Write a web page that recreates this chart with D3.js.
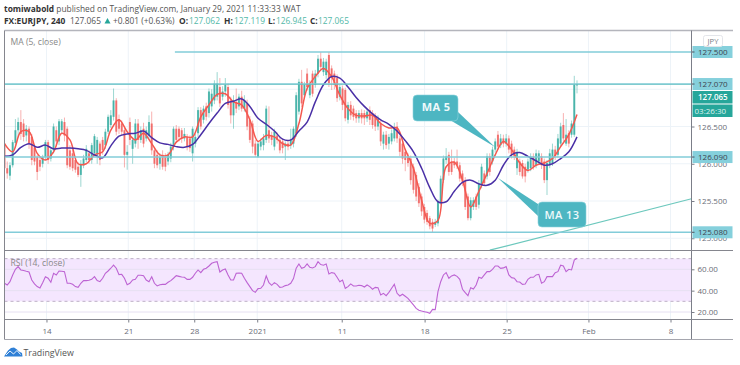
<!DOCTYPE html>
<html>
<head>
<meta charset="utf-8">
<script src="https://cdn.jsdelivr.net/npm/d3@7"></script>
<style>
  body { margin: 0; background: white; }
  text { font-family: "Open Sans", sans-serif; }
</style>
</head>
<body>
<section></section>
<script>
//candles, 4h bars
var opens = [
126.27,125.94,125.84,125.98,126.28,126.45,126.56,126.54,126.38,126.47,
126.36,126.22,126.09,126.05,126.00,126.09,126.29,126.07,126.18,126.45,
126.30,126.45,126.56,126.47,126.18,126.14,126.05,125.96,125.85,125.98,
126.05,126.14,126.05,126.14,126.12,126.27,126.32,126.25,126.43,126.52,
126.63,126.85,126.60,126.54,126.45,126.12,126.56,126.20,126.27,126.54,
126.32,126.47,126.34,126.38,126.54,126.18,126.12,126.00,126.12,126.09,
126.03,126.07,126.23,126.47,126.47,126.45,126.34,126.36,126.34,126.14,
126.27,126.41,126.72,126.59,126.77,126.68,126.77,126.85,126.90,127.03,
126.90,126.97,127.03,126.85,126.65,126.83,126.77,126.90,126.74,126.81,
126.59,126.54,126.27,126.09,126.23,126.25,126.32,126.45,126.38,126.23,
126.38,126.32,126.30,126.23,126.27,126.25,126.27,126.41,126.70,127.10,
126.92,127.21,126.92,127.21,127.06,127.21,127.41,127.23,127.19,127.46,
127.28,127.21,127.15,126.90,127.01,126.99,126.59,126.79,126.74,126.68,
126.61,126.68,126.68,126.61,126.72,126.68,126.63,126.50,126.54,126.27,
126.39,126.27,126.30,126.34,126.50,126.34,126.27,126.16,126.10,126.07,
125.96,125.85,125.69,125.56,125.42,125.34,125.27,125.22,125.18,125.20,
125.49,125.78,126.05,126.12,126.03,126.03,126.03,125.98,125.87,125.78,
125.56,125.27,125.42,125.56,125.45,125.71,125.87,125.83,126.10,126.03,
126.19,126.39,126.25,126.34,126.27,126.34,126.27,126.19,125.94,126.03,
126.01,125.96,125.92,125.94,126.10,125.98,126.03,126.10,126.03,125.78,
125.98,126.01,126.19,126.12,126.27,126.52,126.27,126.41,126.39,126.39,
127.062];
var highs = [
126.30,126.03,126.02,126.32,126.60,126.62,126.72,126.60,126.52,126.50,
126.40,126.26,126.12,126.10,126.12,126.32,126.32,126.22,126.54,126.50,
126.60,126.60,126.62,126.50,126.25,126.20,126.10,126.02,126.05,126.12,
126.25,126.18,126.28,126.40,126.36,126.30,126.36,126.47,126.66,126.72,
127.01,126.88,126.66,126.58,126.48,126.25,126.62,126.36,126.60,126.60,
126.50,126.55,126.50,126.65,126.70,126.22,126.18,126.14,126.18,126.14,
126.16,126.28,126.50,126.52,126.50,126.48,126.48,126.40,126.38,126.50,
126.40,126.76,126.76,126.78,126.82,127.01,127.00,127.12,127.23,127.15,
127.04,127.15,127.08,126.90,126.92,127.01,126.94,126.98,126.92,126.86,
126.64,126.58,126.32,126.30,126.34,126.40,126.78,126.77,126.43,126.47,
126.42,126.36,126.34,126.30,126.32,126.47,126.50,126.96,127.14,127.26,
127.10,127.28,127.12,127.25,127.26,127.46,127.50,127.42,127.41,127.50,
127.32,127.25,127.20,127.06,127.05,127.02,126.83,126.84,126.78,126.72,
126.72,126.73,126.72,126.74,126.77,126.72,126.68,126.65,126.58,126.43,
126.44,126.40,126.46,126.55,126.56,126.38,126.31,126.20,126.14,126.11,
126.00,125.89,125.74,125.60,125.46,125.38,125.30,125.26,125.26,125.52,
125.84,126.11,126.21,126.16,126.19,126.08,126.19,126.02,125.91,125.82,
125.60,125.55,125.55,125.60,125.78,126.00,125.91,126.14,126.14,126.23,
126.34,126.44,126.40,126.39,126.40,126.38,126.31,126.23,126.20,126.07,
126.05,126.00,126.07,126.14,126.14,126.19,126.18,126.14,126.07,126.05,
126.20,126.27,126.24,126.40,126.55,126.68,126.60,126.45,126.58,127.18,
127.119];
var lows = [
125.82,125.80,125.78,125.95,126.22,126.35,126.32,126.30,126.30,126.20,
125.98,125.98,125.78,125.90,125.95,126.05,126.00,126.03,126.14,126.25,
126.25,126.40,126.30,125.94,125.92,125.90,125.88,125.82,125.69,125.94,
126.02,126.00,126.00,126.10,126.00,125.98,126.12,126.20,126.40,126.48,
126.58,126.38,126.40,126.38,125.95,125.92,126.25,126.00,126.22,126.20,
126.28,126.22,126.30,126.34,126.12,125.94,125.94,125.92,125.92,125.90,
125.98,126.02,126.18,126.28,126.30,126.28,126.30,126.18,126.16,126.03,
126.22,126.36,126.46,126.54,126.58,126.62,126.70,126.80,126.85,126.76,
126.85,126.90,126.74,126.54,126.47,126.68,126.72,126.70,126.70,126.45,
126.28,126.14,126.09,126.08,126.18,126.18,126.28,126.28,126.25,126.18,
126.27,126.14,126.14,126.05,126.18,126.20,126.22,126.36,126.66,126.76,
126.88,126.98,126.88,126.90,127.02,127.16,127.26,127.18,127.14,127.03,
126.99,127.00,126.83,126.85,126.72,126.57,126.54,126.59,126.58,126.55,
126.55,126.54,126.52,126.56,126.52,126.47,126.44,126.45,126.24,126.19,
126.20,126.19,126.26,126.30,126.28,126.10,126.00,125.90,125.96,125.72,
125.60,125.50,125.42,125.30,125.20,125.18,125.12,125.08,125.15,125.16,
125.45,125.74,126.00,125.84,125.85,125.94,125.93,125.76,125.70,125.38,
125.24,125.24,125.38,125.38,125.40,125.67,125.70,125.79,125.84,125.99,
126.15,126.19,126.21,126.22,126.23,126.14,126.07,126.05,125.85,125.84,
125.80,125.75,125.88,125.90,125.92,125.94,125.99,125.93,125.74,125.58,
125.94,125.97,126.05,126.08,126.23,126.30,126.24,126.22,126.35,126.36,
126.945];
var closes = [
125.94,125.87,125.98,126.29,126.45,126.56,126.40,126.36,126.47,126.27,
126.05,126.03,125.89,125.96,126.09,126.29,126.05,126.18,126.50,126.30,
126.57,126.57,126.38,125.98,125.96,125.94,125.92,125.85,126.00,126.07,
126.20,126.05,126.25,126.37,126.32,126.05,126.18,126.43,126.63,126.65,
126.85,126.43,126.47,126.43,126.12,126.16,126.32,126.32,126.54,126.32,
126.45,126.27,126.45,126.56,126.18,126.00,125.98,126.09,125.96,125.96,
126.12,126.23,126.47,126.32,126.36,126.34,126.40,126.23,126.21,126.47,
126.36,126.72,126.50,126.74,126.63,126.97,126.94,127.08,127.08,126.81,
126.97,127.06,126.79,126.65,126.85,126.74,126.90,126.74,126.85,126.50,
126.32,126.23,126.12,126.27,126.30,126.34,126.74,126.34,126.32,126.43,
126.32,126.18,126.21,126.27,126.23,126.32,126.47,126.92,127.10,126.81,
127.06,127.03,127.08,126.94,127.21,127.41,127.30,127.37,127.37,127.08,
127.15,127.06,126.88,127.03,126.79,126.61,126.79,126.65,126.63,126.61,
126.68,126.61,126.61,126.70,126.59,126.52,126.50,126.60,126.30,126.39,
126.25,126.36,126.41,126.48,126.34,126.16,126.07,126.05,126.01,125.78,
125.65,125.56,125.47,125.36,125.25,125.22,125.16,125.13,125.22,125.49,
125.80,126.07,126.10,125.89,125.89,125.98,125.98,125.80,125.74,125.42,
125.27,125.51,125.51,125.42,125.74,125.96,125.74,126.10,125.89,126.19,
126.30,126.23,126.34,126.27,126.34,126.19,126.12,126.10,126.16,125.89,
125.83,125.83,126.03,126.10,125.96,126.14,126.14,125.98,125.78,126.01,
126.14,126.19,126.10,126.34,126.50,126.34,126.39,126.27,126.54,127.06,
127.065];

//moving averages, one reading every 3rd bar
var ma5 = [
126.27,126.16,126.43,126.43,126.14,126.05,126.16,126.41,126.32,126.00,126.00,126.12,
126.16,126.45,126.59,126.43,126.32,126.41,126.27,126.12,126.12,126.29,126.36,
126.36,126.63,126.79,126.93,126.94,126.83,126.79,126.59,126.30,126.38,126.36,126.27,
126.25,126.54,127.01,127.17,127.28,127.17,126.92,126.74,126.65,126.64,
126.65,126.54,126.48,126.48,126.19,125.94,125.51,125.20,125.24,125.96,126.02,125.78,125.42,
125.63,125.87,126.12,126.30,126.19,126.01,125.91,125.98,126.01,126.07,126.23,126.39,126.66];
var ma13 = [
126.10,126.12,126.22,126.27,126.22,126.25,126.20,126.21,126.21,126.20,126.18,126.12,
126.08,126.24,126.37,126.40,126.41,126.44,126.35,126.28,126.26,126.23,126.22,
126.26,126.39,126.54,126.68,126.81,126.84,126.87,126.77,126.61,126.53,126.44,126.33,
126.32,126.44,126.56,126.83,127.06,127.17,127.15,127.03,126.89,126.77,
126.67,126.59,126.53,126.44,126.31,126.16,125.94,125.68,125.49,125.49,125.63,125.75,125.78,
125.73,125.71,125.78,125.98,126.12,126.15,126.10,126.04,125.98,126.00,126.07,126.16,126.36];

var rsi = [
46.9,45.3,48.4,54.7,60,62.5,59.4,58.8,58.1,57.5,
50,46.3,43.8,42.5,47.5,53.1,51.6,47.8,56.3,54.7,
58.4,58.1,57.8,46.9,46.9,45.9,43.8,43.1,46.9,49.4,
49.4,49.7,50.6,53.1,49.4,48.4,51.6,56.3,58.4,61,
64,61,55,55.3,51.6,45.6,46.9,50,50.6,54.4,
54.4,54,50,48.4,53.1,46.9,44.4,45.6,45.9,45.9,
47.8,49.4,51.6,54,53.4,52.8,52.5,50.6,50.6,52.5,
56.3,59.4,56.9,60,61,63.1,65.6,66.6,67.2,57.5,
59.4,60.3,54.7,50,50,56.3,56.6,56.3,51.6,47.5,
43.8,40,38.4,41.9,42.2,45.3,53.8,47.5,45,47.5,
45.9,43.1,43.4,44.7,45.3,46.9,51.3,61,65,61,
61.9,65,61.9,61.3,62.5,67.2,64.4,63.8,65,55.6,
56.9,56.3,52.5,48.4,50,42.2,43.8,46.3,44.4,44.4,
45,44.7,43.4,45.3,43.8,41.3,43.1,42.8,35.9,37.5,
35.3,38.4,42.2,45.9,37.5,35,36.6,34.7,32.8,29.7,
26.6,23.4,21.6,20.9,20.3,19.7,18.8,22.5,22.2,39,
48.4,54.7,56.9,51.6,53.8,54.7,53.4,50.6,41.3,38.1,
35.3,42.8,41.6,45.3,52.5,51.6,54.7,57.8,57.8,60,
63.1,63.1,60.9,61.3,62.5,54.7,52.2,51.6,48.4,48.1,
45.9,46.3,50.6,52.5,52.5,54.7,55.3,46.9,48.4,53.1,
53.1,53.1,56.9,57.8,63.8,63.1,57.8,60,59.4,68.7,
70.3];

//axis
var dateBars = [15.4, 45.4, 69.6, 92.7, 123.7, 154.1, 184.2, 214.2, 244.3];
var dateLabels = ["14", "21", "28", "2021", "11", "18", "25", "Feb", "8"];
var priceTicks = [126.5, 126.0, 125.5, 125.0];
var priceGrid = [127.0, 126.5, 126.0, 125.5, 125.0];
var rsiTicks = [60, 40, 20];

//drawn levels, price labels on the axis
var levelPrices = [127.5, 127.07, 126.09, 125.08];
var levelStartBars = [62.5, 0, 0, 0];
var levelLabels = ["127.500", "127.070", "126.090", "125.080"];
var lastPrice = 127.065;

//trend line ends (bar, price)
var trendBars = [178, 252];
var trendPrices = [124.84, 125.53];

var w = 740;
var h = 365;
var left = 4.5;
var right = 691.5;
var top_ = 30.5;
var paneBottom = 250.5;
var rsiBottom = 319.5;
var chartBottom = 339.5;

var upColor = "#26a69a";
var downColor = "#ef5350";
var levelColor = "#82ccd9";
var calloutColor = "#4db6c2";
var textColor = "#6a6d78";
var axisFont = 8;
var headFont = 8.4;

var x = d3.scaleLinear().domain([0, 252]).range([left, right]);
var y = d3.scaleLinear().domain([127.5, 125]).range([52, 238.25]);
var yRsi = d3.scaleLinear().domain([60, 20]).range([269.3, 312]);

var svg = d3.select("section")
            .append("svg")
            .attr("width", w)
            .attr("height", h)
            .style("display", "block");

svg.append("clipPath").attr("id", "mainClip")
    .append("rect")
    .attr("x", left).attr("y", top_)
    .attr("width", right - left).attr("height", paneBottom - top_);

//header
var head1 = svg.append("text").attr("x", 4).attr("y", 11.5).attr("font-size", headFont).attr("fill", "#555");
head1.append("tspan").attr("font-weight", 700).attr("fill", "#333").text("tomiwabold");
head1.append("tspan").text(" published on TradingView.com, January 29, 2021 11:33:33 WAT");

var head2 = [
    {x: 4, t: "FX:EURJPY, 240", c: "#333", b: 700},
    {x: 70, t: "127.065", c: "#555", b: 400},
    {x: 113, t: "+0.801 (+0.63%)", c: "#555", b: 400},
    {x: 179, t: "O:", c: "#333", b: 700},
    {x: 189, t: "127.062", c: "#53b9a8", b: 400},
    {x: 224, t: "H:", c: "#333", b: 700},
    {x: 234, t: "127.119", c: "#53b9a8", b: 400},
    {x: 268, t: "L:", c: "#333", b: 700},
    {x: 276, t: "126.945", c: "#53b9a8", b: 400},
    {x: 310, t: "C:", c: "#333", b: 700},
    {x: 318, t: "127.065", c: "#53b9a8", b: 400}
];
svg.selectAll(".head2").data(head2).enter().append("text")
    .attr("x", function(d){ return d.x; })
    .attr("y", 24)
    .attr("font-size", headFont)
    .attr("font-weight", function(d){ return d.b; })
    .attr("fill", function(d){ return d.c; })
    .text(function(d){ return d.t; });
svg.append("path").attr("d", "M104.5,23.5 L107.5,18 L110.5,23.5 Z").attr("fill", upColor);

//grid
var gridColor = "#edf3f8";
svg.selectAll(".vgrid").data(dateBars).enter().append("line")
    .attr("x1", function(d){ return x(d); }).attr("x2", function(d){ return x(d); })
    .attr("y1", top_).attr("y2", rsiBottom)
    .attr("stroke", gridColor);
svg.selectAll(".hgrid").data(priceGrid).enter().append("line")
    .attr("x1", left).attr("x2", right)
    .attr("y1", function(d){ return y(d); }).attr("y2", function(d){ return y(d); })
    .attr("stroke", gridColor);

//rsi pane background
svg.append("rect")
    .attr("x", left).attr("y", yRsi(70))
    .attr("width", right - left).attr("height", yRsi(30) - yRsi(70))
    .attr("fill", "#f4e6fe");
svg.selectAll(".rgrid").data(rsiTicks).enter().append("line")
    .attr("x1", left).attr("x2", right)
    .attr("y1", function(d){ return yRsi(d); }).attr("y2", function(d){ return yRsi(d); })
    .attr("stroke", "#e6e0f2");
svg.selectAll(".rband").data([70, 30]).enter().append("line")
    .attr("x1", left).attr("x2", right)
    .attr("y1", function(d){ return yRsi(d); }).attr("y2", function(d){ return yRsi(d); })
    .attr("stroke", "#bdb0c6").attr("stroke-dasharray", "3,3");

var rsiLine = d3.line()
    .x(function(d, i){ return x(i); })
    .y(function(d){ return yRsi(d); });
svg.append("path").datum(rsi)
    .attr("d", rsiLine)
    .attr("fill", "none").attr("stroke", "#bd63d3").attr("stroke-width", 1.1);

//candles
var main = svg.append("g").attr("clip-path", "url(#mainClip)");
var bars = main.selectAll(".bar").data(closes).enter().append("g");
bars.append("line")
    .attr("x1", function(d, i){ return x(i); }).attr("x2", function(d, i){ return x(i); })
    .attr("y1", function(d, i){ return y(highs[i]); })
    .attr("y2", function(d, i){ return y(lows[i]); })
    .attr("stroke", function(d, i){ return d >= opens[i] ? upColor : downColor; })
    .attr("stroke-opacity", 0.45);
bars.append("rect")
    .attr("x", function(d, i){ return x(i) - 1; })
    .attr("width", 2)
    .attr("y", function(d, i){ return y(Math.max(d, opens[i])); })
    .attr("height", function(d, i){ return Math.max(1, Math.abs(y(d) - y(opens[i]))); })
    .attr("fill", function(d, i){ return d >= opens[i] ? upColor : downColor; })
    .attr("fill-opacity", 0.75);

//moving averages
var maLine = d3.line()
    .x(function(d, i){ return x(i * 3); })
    .y(function(d){ return y(d); })
    .curve(d3.curveCatmullRom);
main.append("path").datum(ma5).attr("d", maLine)
    .attr("fill", "none").attr("stroke", "#f4584f").attr("stroke-width", 1.5);
main.append("path").datum(ma13).attr("d", maLine)
    .attr("fill", "none").attr("stroke", "#4a30a6").attr("stroke-width", 1.5);

//trend line
main.append("line")
    .attr("x1", x(trendBars[0])).attr("y1", y(trendPrices[0]))
    .attr("x2", x(trendBars[1])).attr("y2", y(trendPrices[1]))
    .attr("stroke", "#6cc8bd").attr("stroke-width", 1.2);

//horizontal levels
svg.selectAll(".level").data(levelPrices).enter().append("line")
    .attr("x1", function(d, i){ return x(levelStartBars[i]); })
    .attr("x2", right)
    .attr("y1", function(d){ return y(d); }).attr("y2", function(d){ return y(d); })
    .attr("stroke", levelColor).attr("stroke-width", 1.6);
svg.append("line")
    .attr("x1", left).attr("x2", right)
    .attr("y1", y(lastPrice)).attr("y2", y(lastPrice))
    .attr("stroke", upColor).attr("stroke-opacity", 0.6).attr("stroke-dasharray", "1,1");

//callouts
var callouts = [
    {label: "MA 5", x: 413, y: 95, w: 45, h: 26, tail: "M450,120 L495,147 L458,112 Z", tx: 436, ty: 111},
    {label: "MA 13", x: 538, y: 202, w: 48, h: 25, tail: "M538,204 L498,178 L538,216 Z", tx: 562, ty: 218.5}
];
callouts.forEach(function(c, i){
    svg.append("path").attr("d", c.tail).attr("fill", calloutColor);
    svg.append("rect")
        .attr("x", c.x).attr("y", c.y).attr("width", c.w).attr("height", c.h)
        .attr("rx", 4).attr("fill", calloutColor)
        .attr("stroke", "#8fd5de").attr("stroke-width", 0.6);
    svg.append("text")
        .attr("x", c.tx).attr("y", c.ty).attr("text-anchor", "middle")
        .attr("font-size", 11).attr("font-weight", i === 0 ? 700 : 600).attr("letter-spacing", 0.4).attr("fill", "#eef9fb")
        .text(c.label);
});

//price axis
var priceAxis = d3.axisRight(y)
    .tickValues(priceTicks)
    .tickSize(3).tickPadding(3)
    .tickFormat(d3.format(".3f"));
var rsiAxis = d3.axisRight(yRsi)
    .tickValues(rsiTicks)
    .tickSize(3).tickPadding(3)
    .tickFormat(d3.format(".2f"));
var timeAxis = d3.axisBottom(x)
    .tickValues(dateBars)
    .tickSize(3).tickPadding(6)
    .tickFormat(function(d, i){ return dateLabels[i]; });

[svg.append("g").attr("transform", "translate(" + right + ",0)").call(priceAxis),
 svg.append("g").attr("transform", "translate(" + right + ",0)").call(rsiAxis),
 svg.append("g").attr("transform", "translate(0," + rsiBottom + ")").call(timeAxis)
].forEach(function(a){
    a.select(".domain").remove();
    a.selectAll("line").attr("stroke", "#7b7e88");
    a.selectAll("text").attr("font-size", axisFont).attr("fill", textColor)
        .style("font-family", '"Open Sans", sans-serif');
});

//labels on the axis
svg.selectAll(".levelTag").data(levelPrices).enter().append("rect")
    .attr("x", right + 1).attr("width", 40)
    .attr("y", function(d){ return y(d) - 6; }).attr("height", 12)
    .attr("fill", "#85d0dc");
svg.selectAll(".levelTick").data(levelPrices).enter().append("line")
    .attr("x1", right).attr("x2", right + 3)
    .attr("y1", function(d){ return y(d); }).attr("y2", function(d){ return y(d); })
    .attr("stroke", "#4f5560");
svg.selectAll(".levelText").data(levelLabels).enter().append("text")
    .attr("x", 698)
    .attr("y", function(d, i){ return y(levelPrices[i]) + 3; })
    .attr("font-size", axisFont).attr("fill", "#3d4450")
    .text(function(d){ return d; });
svg.append("rect").attr("x", right + 1).attr("y", 91).attr("width", 40).attr("height", 12.5).attr("fill", upColor);
svg.append("rect").attr("x", right + 1).attr("y", 104.5).attr("width", 40).attr("height", 12.5).attr("fill", upColor);
svg.append("text").attr("x", 698).attr("y", 100.2).attr("font-size", axisFont).attr("font-weight", 600).attr("fill", "white").text("127.065");
svg.append("text").attr("x", 694.5).attr("y", 113.8).attr("font-size", axisFont).attr("fill", "#dff3f0").text("03:26:30");

//JPY button
svg.append("rect").attr("x", 703.5).attr("y", 35.5).attr("width", 19).attr("height", 11).attr("rx", 2)
    .attr("fill", "white").attr("stroke", "#e3e5ea");
svg.append("text").attr("x", 713).attr("y", 44).attr("text-anchor", "middle")
    .attr("font-size", 7.6).attr("fill", "#7a7d86").text("JPY");

//frame
var frame = [
    [left, top_, 733, top_, "#b4b5bc", 1.6],
    [left, top_, left, chartBottom, "#85868e", 1],
    [right, top_, right, chartBottom, "#7b7e88", 1],
    [left, paneBottom, 733, paneBottom, "#85868e", 1],
    [left, rsiBottom, 733, rsiBottom, "#85868e", 1],
    [left, chartBottom, 733, chartBottom, "#a5a6ae", 1]
];
frame.forEach(function(f){
    svg.append("line")
        .attr("x1", f[0]).attr("y1", f[1]).attr("x2", f[2]).attr("y2", f[3])
        .attr("stroke", f[4]).attr("stroke-width", f[5]);
});

//pane legends
svg.append("text").attr("x", 10.5).attr("y", 45).attr("font-size", 8.6).attr("fill", "#888").text("MA (5, close)");
svg.append("text").attr("x", 10.5).attr("y", 265.5).attr("font-size", 8.6).attr("fill", "#888").text("RSI (14, close)");

//footer logo
svg.append("path")
    .attr("d", "M4,356.5 L8,350.5 L11,348 L14,347.5 L17,349.5 L19,351.5 L22,353 L22.5,356.5 Z")
    .attr("fill", "#2f80d6");
svg.append("path")
    .attr("d", "M6,355 L10,351 L13.5,354 L17,350.5 L20.5,354.5")
    .attr("fill", "none").attr("stroke", "white").attr("stroke-width", 0.9);
svg.append("text").attr("x", 23.5).attr("y", 355.5).attr("font-size", 8.8).attr("fill", "#555").text("TradingView");
</script>
</body>
</html>
